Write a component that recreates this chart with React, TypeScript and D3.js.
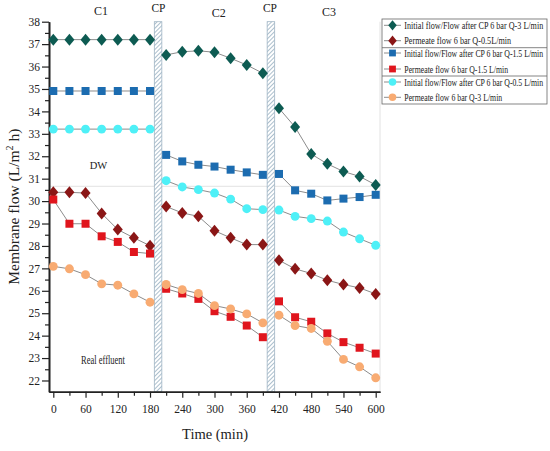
import * as d3 from "d3";
import React, { useEffect, useRef } from "react";

// sampling times of the three cycles (min)
const timesC1 = [0, 30, 60, 90, 120, 150, 180];
const timesC2 = [210, 240, 270, 300, 330, 360, 390];
const timesC3 = [420, 450, 480, 510, 540, 570, 600];

// chemical purge windows (min)
const cpStart = [188, 398];
const cpEnd = [202, 412];

// membrane flow, L/m² h, one array per cycle
const initialQ3 = [
  [37.2, 37.2, 37.2, 37.2, 37.2, 37.2, 37.2],
  [36.52, 36.66, 36.7, 36.64, 36.37, 36.07, 35.7],
  [34.14, 33.3, 32.1, 31.66, 31.32, 31.1, 30.72],
];
const permeateQ05 = [
  [30.39, 30.39, 30.36, 29.45, 28.73, 28.36, 28.01],
  [29.76, 29.47, 29.32, 28.68, 28.36, 28.06, 28.06],
  [27.36, 26.98, 26.77, 26.47, 26.28, 26.13, 25.86],
];
const initialQ15 = [
  [34.91, 34.91, 34.91, 34.91, 34.91, 34.91, 34.91],
  [32.06, 31.77, 31.62, 31.54, 31.4, 31.28, 31.17],
  [31.21, 30.48, 30.33, 30.03, 30.11, 30.18, 30.28],
];
const permeateQ15 = [
  [30.07, 28.99, 28.99, 28.43, 28.18, 27.73, 27.66],
  [26.09, 25.88, 25.64, 25.09, 24.84, 24.45, 23.93],
  [25.53, 24.82, 24.62, 24.1, 23.71, 23.46, 23.2],
];
const initialQ05 = [
  [33.21, 33.21, 33.21, 33.21, 33.21, 33.21, 33.21],
  [30.91, 30.63, 30.51, 30.36, 30.09, 29.66, 29.62],
  [29.6, 29.32, 29.22, 29.11, 28.62, 28.32, 28.03],
];
const permeateQ3 = [
  [27.09, 26.98, 26.72, 26.31, 26.25, 25.86, 25.49],
  [26.28, 26.05, 25.88, 25.34, 25.19, 24.97, 24.57],
  [24.91, 24.45, 24.32, 23.75, 22.94, 22.61, 22.12],
];

const yTicks = d3.range(22, 39, 1);
const xTicks = d3.range(0, 601, 60);

type Shape = "diamond" | "square" | "circle";

const SERIES: { name: string; values: number[][]; color: string; shape: Shape; textW: number }[] = [
  { name: "Initial flow/Flow after CP 6 bar Q-3 L/min", values: initialQ3, color: "#0d5b52", shape: "diamond", textW: 139 },
  { name: "Permeate flow 6 bar Q-0.5L/min", values: permeateQ05, color: "#8a1616", shape: "diamond", textW: 107 },
  { name: "Initial flow/Flow after CP 6 bar Q-1.5 L/min", values: initialQ15, color: "#1c6cb0", shape: "square", textW: 139 },
  { name: "Permeate flow 6 bar Q-1.5 L/min", values: permeateQ15, color: "#e0151d", shape: "square", textW: 104 },
  { name: "Initial flow/Flow after CP 6 bar Q-0.5 L/min", values: initialQ05, color: "#4ef0f7", shape: "circle", textW: 139 },
  { name: "Permeate flow 6 bar Q-3 L/min", values: permeateQ3, color: "#f8ab72", shape: "circle", textW: 98 },
];

const FONT = "'Liberation Serif', 'Times New Roman', serif";

const markerPath = (shape: Shape, k = 1) => {
  if (shape === "diamond") return `M0,${-6 * k}L${5 * k},0L0,${6 * k}L${-5 * k},0Z`;
  if (shape === "square") return `M${-4 * k},${-4 * k}h${8 * k}v${8 * k}h${-8 * k}Z`;
  return d3.symbol(d3.symbolCircle, 62 * k * k)()!;
};

// squeeze a text horizontally so it spans `width` px from `x0`
const squeeze = (
  sel: d3.Selection<SVGTextElement, unknown, null, undefined>,
  x0: number,
  y0: number,
  width: number,
) => {
  const natural = sel.node()!.getComputedTextLength() || width;
  const sx = Math.min(1, width / natural);
  sel.attr("x", 0).attr("y", 0).attr("transform", `translate(${x0},${y0}) scale(${sx},1)`);
};

const App: React.FC = () => {
  const svgRef = useRef<SVGSVGElement>(null);

  useEffect(() => {
    if (!svgRef.current) return;
    const svg = d3.select(svgRef.current);
    svg.selectAll("*").remove();

    const x = d3.scaleLinear().domain([-8, 608]).range([49, 380]);
    const y = d3.scaleLinear().domain([21.5, 38]).range([391.7, 21.7]);
    const cycleTimes = [timesC1, timesC2, timesC3];

    const defs = svg.append("defs");
    const pat = defs
      .append("pattern")
      .attr("id", "hatch")
      .attr("patternUnits", "userSpaceOnUse")
      .attr("width", 3)
      .attr("height", 3)
      .attr("patternTransform", "rotate(45)");
    pat.append("rect").attr("width", 3).attr("height", 3).attr("fill", "#fff");
    pat.append("line").attr("x1", 0).attr("y1", 0).attr("x2", 0).attr("y2", 3)
      .attr("stroke", "#7f9cb2").attr("stroke-width", 1.3);

    // faint separators DW / real effluent, right frame
    svg.append("line")
      .attr("x1", x(-8)).attr("x2", x(608))
      .attr("y1", y(30.66)).attr("y2", y(30.66))
      .attr("stroke", "#e2e2e2");
    svg.append("line")
      .attr("x1", x(608)).attr("x2", x(608))
      .attr("y1", y(38)).attr("y2", y(21.5))
      .attr("stroke", "#e2e2e2");

    // CP bands
    svg.selectAll(".cp")
      .data(cpStart)
      .join("rect")
      .attr("class", "cp")
      .attr("x", (d) => x(d))
      .attr("y", y(38))
      .attr("width", (d, i) => x(cpEnd[i]) - x(d))
      .attr("height", y(21.5) - y(38))
      .attr("fill", "url(#hatch)")
      .attr("stroke", "#9fb4c4")
      .attr("stroke-width", 0.8);

    // axes
    const yAxis = svg.append("g").attr("transform", `translate(${x(-8)},0)`)
      .call(d3.axisLeft(y).tickValues(yTicks).tickSize(7).tickSizeOuter(0).tickPadding(2));
    svg.append("g").attr("transform", `translate(${x(-8)},0)`)
      .call(d3.axisLeft(y).tickValues(d3.range(22.5, 38, 1)).tickSize(4).tickFormat(() => "").tickSizeOuter(0));
    const xAxis = svg.append("g").attr("transform", `translate(0,${y(21.5)})`)
      .call(d3.axisBottom(x).tickValues(xTicks).tickSize(6).tickSizeOuter(0).tickPadding(7));
    svg.append("g").attr("transform", `translate(0,${y(21.5)})`)
      .call(d3.axisBottom(x).tickValues(d3.range(30, 600, 60)).tickSize(4).tickFormat(() => "").tickSizeOuter(0));

    svg.selectAll(".domain").attr("stroke", "#222").attr("stroke-width", 1.6);
    svg.selectAll(".tick line").attr("stroke", "#222").attr("stroke-width", 1.2);
    [yAxis, xAxis].forEach((a) =>
      a.selectAll("text").attr("fill", "#222").style("font-family", FONT).style("font-size", "11.5px"),
    );

    // series
    SERIES.forEach((s) => {
      s.values.forEach((vals, c) => {
        const pts = vals.map((v, i) => [cycleTimes[c][i], v] as [number, number]);
        svg.append("path")
          .datum(pts)
          .attr("fill", "none")
          .attr("stroke", "#8c8c8c")
          .attr("stroke-width", 1)
          .attr("d", d3.line().x((d) => x(d[0])).y((d) => y(d[1])));
        svg.selectAll(null)
          .data(pts)
          .join("path")
          .attr("transform", (d) => `translate(${x(d[0])},${y(d[1])})`)
          .attr("d", markerPath(s.shape))
          .attr("fill", s.color);
      });
    });

    // annotations
    const labels: [string, number, number, number][] = [
      ["C1", 101, 15, 12],
      ["CP", 158.5, 12, 11.5],
      ["C2", 218.7, 16.5, 12],
      ["CP", 270, 12, 11.5],
      ["C3", 329, 16, 12],
      ["DW", 98.5, 168.5, 10.5],
    ];
    labels.forEach(([t, lx, ly, fs]) => {
      svg.append("text").attr("x", lx).attr("y", ly).attr("text-anchor", "middle")
        .attr("fill", "#222").style("font-family", FONT).style("font-size", `${fs}px`).text(t);
    });
    const eff = svg.append("text")
      .attr("fill", "#222").style("font-family", FONT).style("font-size", "11.5px").text("Real effluent");
    squeeze(eff, 81, 364, 44);

    svg.append("text").attr("x", 215).attr("y", 439).attr("text-anchor", "middle")
      .attr("fill", "#222").style("font-family", FONT).style("font-size", "14.5px").text("Time (min)");

    const yt = svg.append("text")
      .attr("transform", `translate(19,${(y(38) + y(21.5)) / 2}) rotate(-90)`)
      .attr("text-anchor", "middle")
      .attr("fill", "#222").style("font-family", FONT).style("font-size", "15.5px");
    yt.append("tspan").text("Membrane flow (L/m");
    yt.append("tspan").attr("dy", -6).style("font-size", "10px").text("2");
    yt.append("tspan").attr("dy", 6).text(" h)");

    // legend
    const lg = svg.append("g");
    lg.append("rect").attr("x", 382).attr("y", 19).attr("width", 165).attr("height", 85)
      .attr("fill", "#fff").attr("stroke", "#666").attr("stroke-width", 0.8);
    [47.7, 76].forEach((ly) =>
      lg.append("line").attr("x1", 382).attr("x2", 547).attr("y1", ly).attr("y2", ly)
        .attr("stroke", "#666").attr("stroke-width", 0.8),
    );
    const rowY = [25.3, 40.7, 53, 69, 82, 97.3];
    SERIES.forEach((s, i) => {
      const row = lg.append("g").attr("transform", `translate(0,${rowY[i]})`);
      row.append("line").attr("x1", 384).attr("x2", 401).attr("stroke", "#8c8c8c");
      row.append("path").attr("transform", "translate(392.5,0)")
        .attr("d", markerPath(s.shape, 0.85)).attr("fill", s.color);
      const t = row.append("text").attr("dy", "0.35em")
        .attr("fill", "#222").style("font-family", FONT).style("font-size", "10px").text(s.name);
      squeeze(t, 404.3, 0, s.textW);
    });
  }, []);

  return (
    <svg
      ref={svgRef}
      width={550}
      height={451}
      style={{ position: "absolute", left: 0, top: 0, background: "#fff" }}
    />
  );
};

export default App;
